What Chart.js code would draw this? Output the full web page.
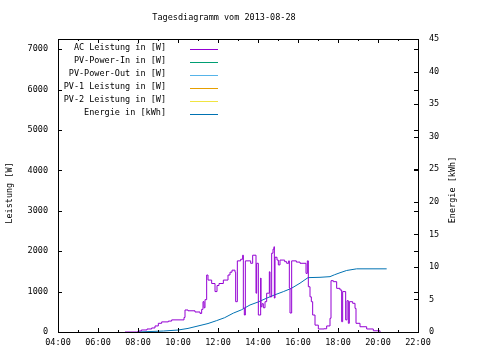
<!DOCTYPE html>
<html>
<head>
<meta charset="utf-8">
<title>Tagesdiagramm</title>
<script src="https://cdn.jsdelivr.net/npm/chart.js@4/dist/chart.umd.min.js"></script>
<style>
  html, body { margin: 0; padding: 0; background: #ffffff; }
  #wrap { width: 480px; height: 360px; }
</style>
</head>
<body>
<div id="wrap"><canvas id="day-chart" width="480" height="360"></canvas></div>
<script>
// ---- Daten ----
const titleText = "Tagesdiagramm vom 2013-08-28";

const acTimes = [
  "07:21","07:56","08:00","08:10","08:27","08:41","08:51","09:01","09:11","09:31",
  "09:41","10:06","10:18","10:21","10:30","10:51","11:06","11:11","11:15","11:18",
  "11:21","11:26","11:30","11:41","11:51","11:57","12:03","12:16","12:30","12:36",
  "12:42","12:51","12:53","12:58","13:08","13:14","13:16","13:19","13:22","13:38",
  "13:44","13:54","13:56","14:01","14:08","14:09","14:12","14:16","14:21","14:26",
  "14:34","14:36","14:41","14:45","14:48","14:49","14:51","14:57","15:01","15:06",
  "15:20","15:26","15:32","15:34","15:36","15:41","15:55","16:06","16:21","16:24",
  "16:28","16:31","16:36","16:40","16:44","16:51","17:01","17:18","17:26","17:36",
  "17:39","17:46","17:56","18:06","18:11","18:14","18:21","18:23","18:27","18:31",
  "18:34","18:44","18:51","18:54","19:06","19:26","19:46","20:06"
];
const acValues = [
  0, 0, 25, 50, 75, 100, 150, 215, 250, 270,
  300, 300, 360, 545, 525, 495, 460, 560, 750, 600,
  800, 1410, 1285, 1200, 1000, 1150, 1200, 1285, 1410, 1480,
  1530, 1480, 750, 1760, 1800, 1900, 590, 420, 1760, 1700,
  1900, 960, 1700, 420, 1335, 625, 700, 600, 750, 960,
  1490, 870, 1950, 2050, 2110, 840, 1850, 1780, 1660, 1780,
  1740, 1700, 1760, 1090, 470, 1760, 1730, 1700, 1700, 1450,
  1760, 1120, 870, 750, 420, 170, 75, 80, 150, 340,
  1270, 1245, 1080, 1040, 255, 1000, 1000, 300, 775, 215,
  750, 710, 585, 215, 130, 75, 30, 0
];

const energyTimes = [
  "08:00","09:16","10:00","10:30","11:06","11:30","11:56","12:20","12:46","13:10",
  "13:36","14:00","14:26","14:50","15:16","15:40","16:06","16:30","17:06","17:36",
  "17:50","18:06","18:26","18:56","20:26"
];
const energyValues = [
  0, 0.15, 0.3, 0.55, 1.0, 1.3, 1.75, 2.2, 2.9, 3.4,
  4.15, 4.6, 5.2, 5.7, 6.2, 6.7, 7.5, 8.35, 8.4, 8.5,
  8.8, 9.1, 9.45, 9.7, 9.7
];

// Reihen ohne sichtbare Werte
const pvInValues = [];
const pvOutValues = [];
const pv1Values = [];
const pv2Values = [];

const seriesNames = [
  "AC Leistung in [W]",
  "PV-Power-In in [W]",
  "PV-Power-Out in [W]",
  "PV-1 Leistung in [W]",
  "PV-2 Leistung in [W]",
  "Energie in [kWh]"
];
const seriesColors = ["#9400d3", "#009e73", "#56b4e9", "#e69f00", "#f0e442", "#0072b2"];

const xTicks = [4, 6, 8, 10, 12, 14, 16, 18, 20, 22];
const wattTicks = [0, 1000, 2000, 3000, 4000, 5000, 6000, 7000];
const kwhTicks = [0, 5, 10, 15, 20, 25, 30, 35, 40, 45];

const xMin = 4, xMax = 22;
const wattMax = 7250, kwhMax = 45;

const FONT = "'DejaVu Sans Mono', 'Liberation Mono', monospace";


/**
 * "HH:MM" -> Stunden
 */
function toHours(t){
  const p = t.split(":");
  return parseInt(p[0], 10) + parseInt(p[1], 10) / 60;
}

function pad2(n){
  return (n < 10 ? "0" : "") + n;
}

function points(times, values){
  return times.map((t, i) => ({ x: toHours(t), y: values[i] }));
}

function fixedTicks(list){
  return function(scale){
    scale.ticks = list.map((v) => ({ value: v }));
  };
}


/**
 * gnuplot-artiger Rahmen, Ticks, Titel, Legende
 */
const framePlugin = {
  id: "frame",
  afterDraw(chart){
    const ctx = chart.ctx;
    const a = chart.chartArea;
    const sx = chart.scales.x, sy = chart.scales.y, sy2 = chart.scales.y2;

    ctx.save();
    ctx.strokeStyle = "#000";
    ctx.lineWidth = 1;

    // Rahmen
    ctx.strokeRect(Math.round(a.left) + 0.5, Math.round(a.top) + 0.5,
      Math.round(a.right - a.left), Math.round(a.bottom - a.top));

    ctx.beginPath();
    // x-Ticks unten und oben
    for(let h = xMin; h <= xMax; h++){
      const px = Math.round(sx.getPixelForValue(h)) + 0.5;
      const len = (h % 2 === 0) ? 4 : 2;
      ctx.moveTo(px, a.bottom); ctx.lineTo(px, a.bottom - len);
      ctx.moveTo(px, a.top); ctx.lineTo(px, a.top + len);
    }
    // y-Ticks links, gespiegelt rechts
    wattTicks.forEach((w) => {
      const py = Math.round(sy.getPixelForValue(w)) + 0.5;
      ctx.moveTo(a.left, py); ctx.lineTo(a.left + 4, py);
      ctx.moveTo(a.right, py); ctx.lineTo(a.right - 4, py);
    });
    // y2-Ticks rechts
    kwhTicks.forEach((e) => {
      const py = Math.round(sy2.getPixelForValue(e)) + 0.5;
      ctx.moveTo(a.right, py); ctx.lineTo(a.right - 4, py);
    });
    ctx.stroke();

    ctx.fillStyle = "#000";
    ctx.font = "8.5px " + FONT;

    // Titel
    ctx.textAlign = "center";
    ctx.textBaseline = "middle";
    ctx.fillText(titleText, 224, 18);

    // Achsentitel
    ctx.save();
    ctx.translate(10, 193);
    ctx.rotate(-Math.PI / 2);
    ctx.fillText("Leistung [W]", 0, 0);
    ctx.restore();

    ctx.save();
    ctx.translate(453, 190);
    ctx.rotate(-Math.PI / 2);
    ctx.fillText("Energie [kWh]", 0, 0);
    ctx.restore();

    // Legende
    ctx.textAlign = "right";
    for(let i = 0; i < seriesNames.length; i++){
      const y = 48 + i * 13;
      ctx.fillStyle = "#000";
      ctx.fillText(seriesNames[i], 166, y);
      ctx.strokeStyle = seriesColors[i];
      ctx.beginPath();
      ctx.moveTo(190, y + 1.5);
      ctx.lineTo(218, y + 1.5);
      ctx.stroke();
    }

    ctx.restore();
  }
};


function lineSet(label, data, color, axis, stepped){
  return {
    label: label,
    data: data,
    yAxisID: axis,
    borderColor: color,
    backgroundColor: color,
    borderWidth: 1,
    pointRadius: 0,
    stepped: stepped,
    tension: 0,
    fill: false
  };
}


const tickFont = { family: FONT, size: 8.5 };

new Chart(document.getElementById("day-chart"), {
  type: "line",
  data: {
    datasets: [
      lineSet(seriesNames[0], points(acTimes, acValues), seriesColors[0], "y", true),
      lineSet(seriesNames[1], pvInValues, seriesColors[1], "y", true),
      lineSet(seriesNames[2], pvOutValues, seriesColors[2], "y", true),
      lineSet(seriesNames[3], pv1Values, seriesColors[3], "y", true),
      lineSet(seriesNames[4], pv2Values, seriesColors[4], "y", true),
      lineSet(seriesNames[5], points(energyTimes, energyValues), seriesColors[5], "y2", false)
    ]
  },
  options: {
    responsive: false,
    animation: false,
    events: [],
    layout: { padding: { top: 39, left: 0, right: 0, bottom: 0 } },
    plugins: {
      legend: { display: false },
      title: { display: false },
      tooltip: { enabled: false }
    },
    scales: {
      x: {
        type: "linear",
        min: xMin,
        max: xMax,
        grid: { display: false, drawTicks: false },
        border: { display: false },
        afterBuildTicks: fixedTicks(xTicks),
        ticks: {
          autoSkip: false,
          maxRotation: 0,
          padding: 6,
          color: "#000",
          font: tickFont,
          callback: (v) => pad2(v) + ":00"
        },
        afterFit(scale){ scale.height = 28; }
      },
      y: {
        position: "left",
        min: 0,
        max: wattMax,
        grid: { display: false, drawTicks: false },
        border: { display: false },
        afterBuildTicks: fixedTicks(wattTicks),
        ticks: {
          autoSkip: false,
          padding: 10,
          color: "#000",
          font: tickFont,
          callback: (v) => String(v)
        },
        afterFit(scale){ scale.width = 58; }
      },
      y2: {
        position: "right",
        min: 0,
        max: kwhMax,
        grid: { display: false, drawTicks: false },
        border: { display: false },
        afterBuildTicks: fixedTicks(kwhTicks),
        ticks: {
          autoSkip: false,
          padding: 11,
          color: "#000",
          font: tickFont,
          callback: (v) => String(v)
        },
        afterFit(scale){ scale.width = 62; }
      }
    }
  },
  plugins: [framePlugin]
});
</script>
</body>
</html>
